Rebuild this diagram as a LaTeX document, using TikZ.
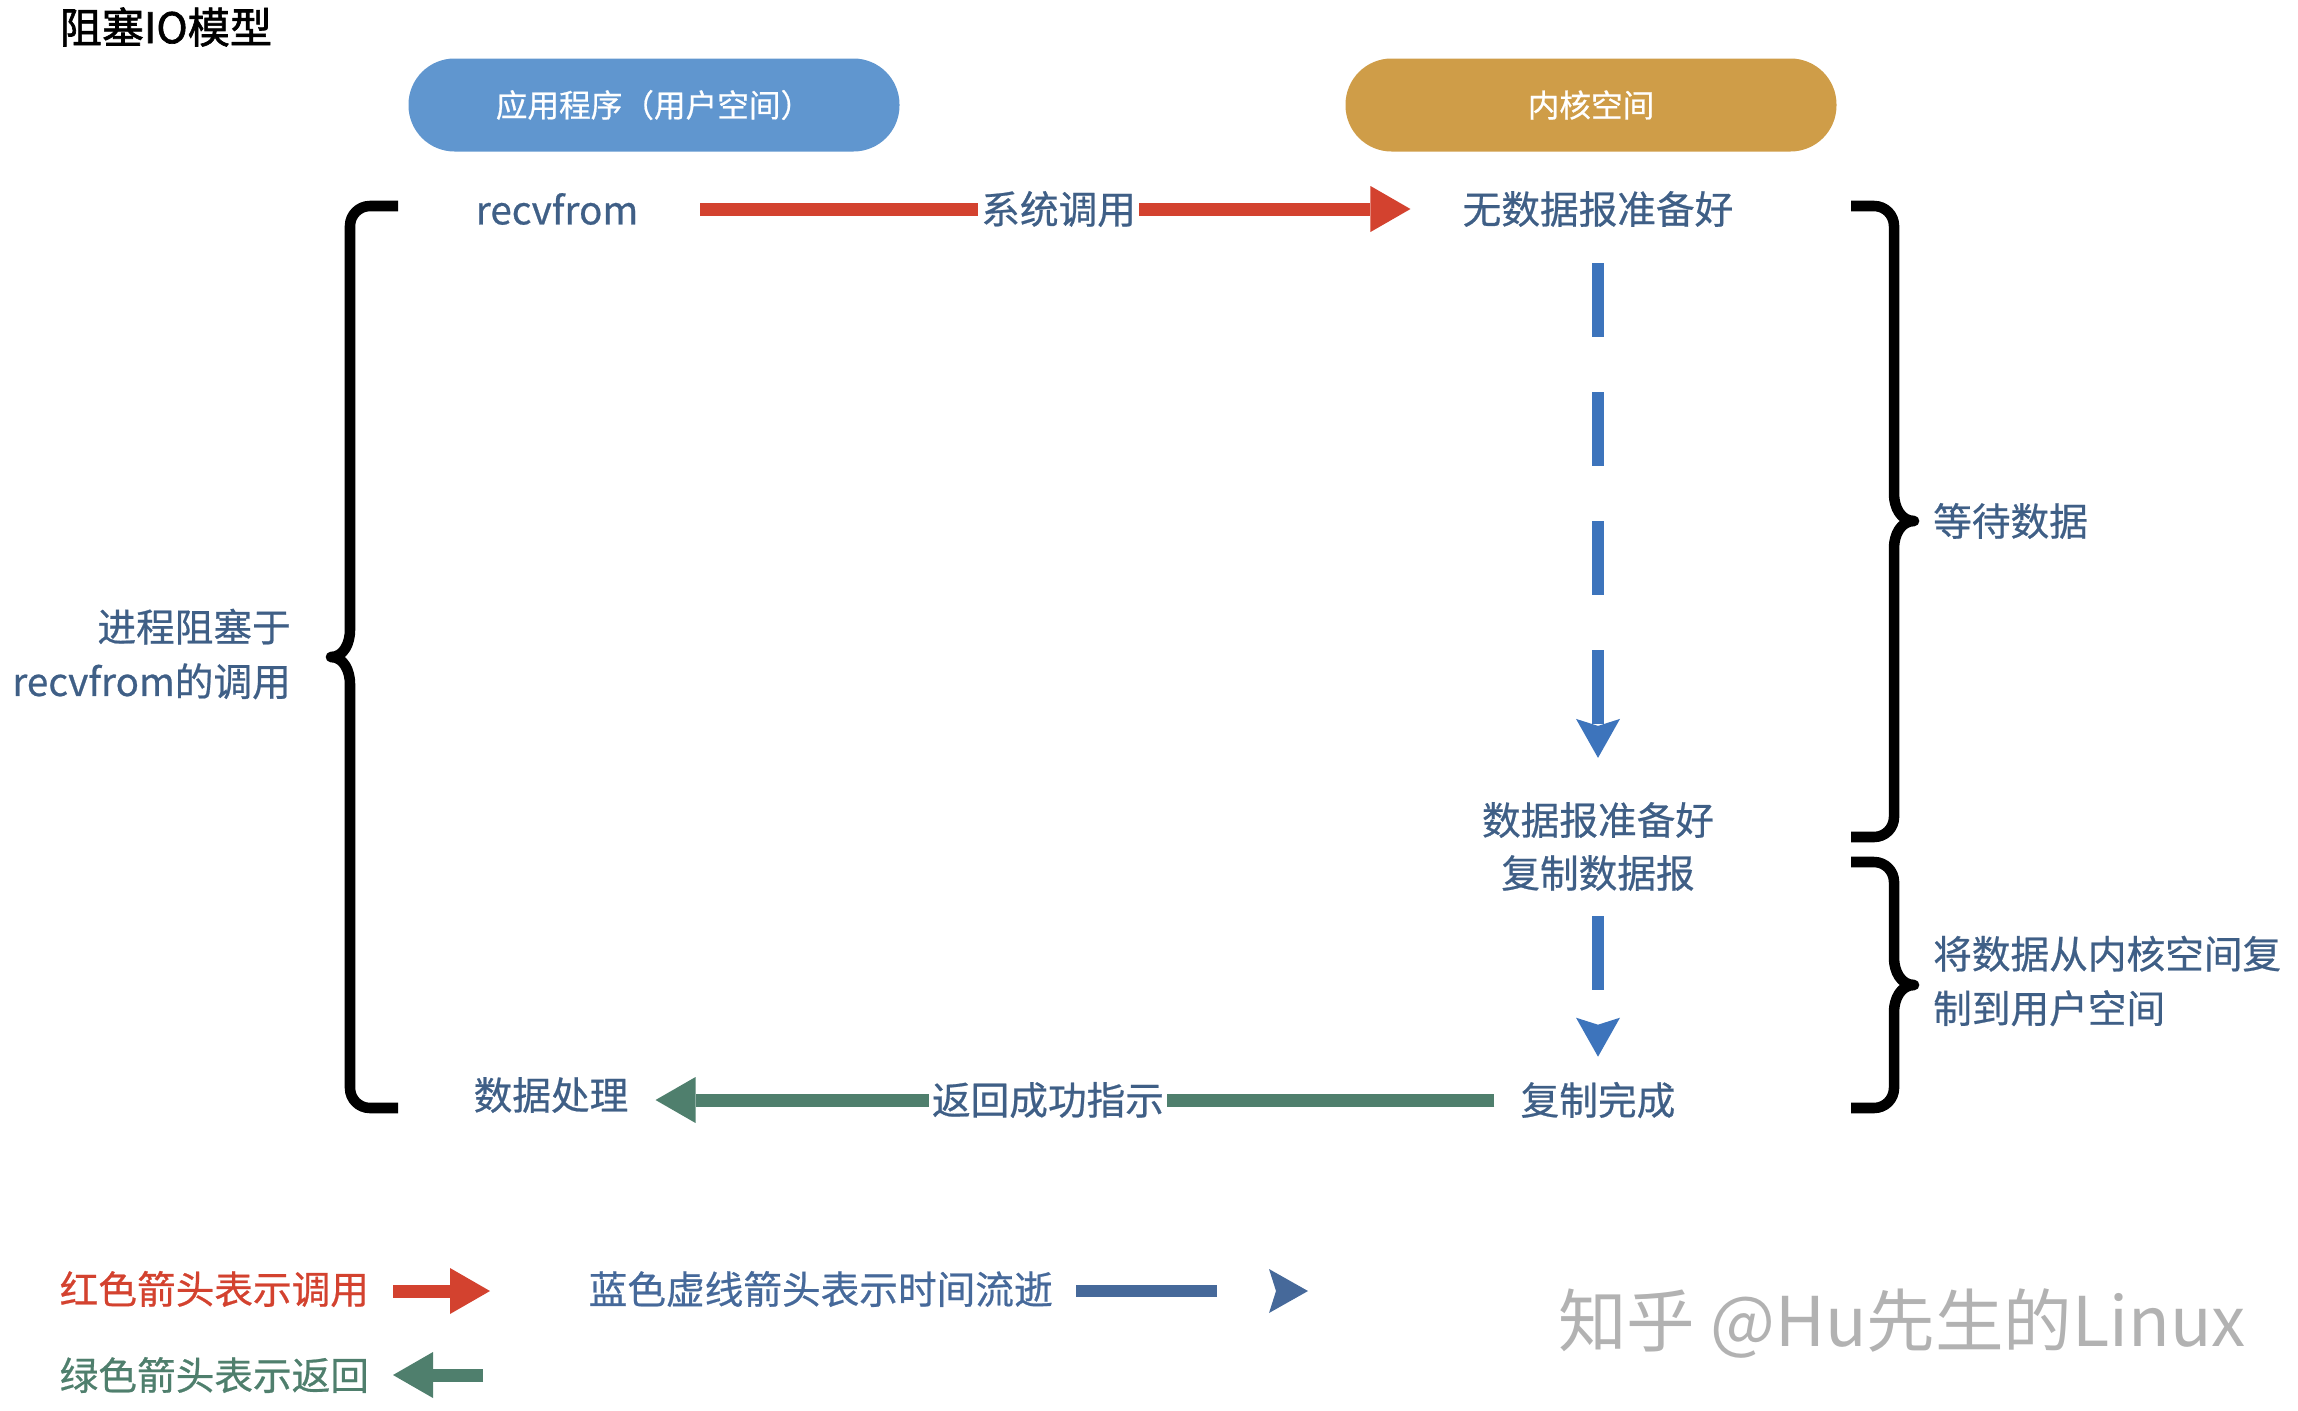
\documentclass[tikz,border=0pt]{standalone}
\usepackage{fontspec}
\setmainfont[FakeBold=0.6]{Noto Sans CJK SC}
\newfontfamily\titlefont[FakeBold=1.5]{Noto Sans CJK SC}
\newfontfamily\markfont{Noto Sans CJK SC}
\usetikzlibrary{arrows.meta}
\definecolor{userblue}{HTML}{6096CF}
\definecolor{kernelgold}{HTML}{CF9D48}
\definecolor{textblue}{HTML}{3F5F86}
\definecolor{callred}{HTML}{D3422F}
\definecolor{retgreen}{HTML}{4F7F6D}
\definecolor{flowblue}{HTML}{3D74BC}
\definecolor{legblue}{HTML}{46699A}

\begin{document}
\begin{tikzpicture}[pill/.style={rectangle,rounded corners=4.6mm,minimum width=4.91cm,
  minimum height=0.93cm,fill=#1,text=white,font=\fontsize{9}{10}\selectfont},
 lbl/.style={text=textblue,font=\fontsize{11}{15.5}\selectfont,inner sep=1pt},
 call/.style={line width=0.13cm,callred,-{Triangle[length=0.40cm,width=0.46cm,line width=0pt]}},
 ret/.style={line width=0.13cm,retgreen,-{Triangle[length=0.40cm,width=0.46cm,line width=0pt]}},
 flow/.style={line width=0.12cm,flowblue,dash pattern=on 0.74cm off 0.55cm,
  -{Stealth[length=0.39cm,width=0.44cm,inset=0.07cm,line width=0pt]}},
 curly/.style={line width=3pt,line join=round}]
\useasboundingbox (0,0) rectangle (22.98,14.10);
\node [anchor=west,inner sep=0pt,font=\titlefont\fontsize{12}{14}\selectfont] (title) at (0.59,13.83) {阻塞IO模型};
\node [pill=userblue] (user) at (6.54,13.05) {应用程序（用户空间）};
\node [pill=kernelgold] (kernel) at (15.91,13.05) {内核空间};
\node [lbl] (recv) at (5.57,12.01) {recvfrom};
\node [lbl] (nodata) at (15.98,12.01) {无数据报准备好};
\node [lbl] (ready) at (15.98,5.90) {数据报准备好};
\node [lbl] (copy) at (15.98,5.37) {复制数据报};
\node [lbl] (done) at (15.98,3.10) {复制完成};
\node [lbl] (proc) at (5.51,3.15) {数据处理};
\node [lbl,anchor=east,align=right] (block) at (2.95,7.56) {进程阻塞于\\recvfrom的调用};
\node [lbl,anchor=west] (wait) at (19.29,8.89) {等待数据};
\node [lbl,anchor=west,align=left] (copyto) at (19.29,4.29) {将数据从内核空间复\\制到用户空间};
% calls, time and return
\draw [call,shorten <=0.58cm,shorten >=0.48cm] (recv) -- (nodata) node [lbl,pos=0.51,fill=white] {系统调用};
\draw [flow,shorten <=0.32cm,shorten >=0.40cm] (nodata.south) -- (ready.north);
\draw [flow,shorten <=0.21cm,shorten >=0.21cm] (copy.south) -- (done.north);
\draw [ret,shorten <=0.22cm,shorten >=0.23cm] (done.west) -- (done.west -| proc.east) node [lbl,pos=0.53,fill=white] {返回成功指示};
% braces
\draw [curly] (3.98,12.04) -- (3.70,12.04) to[out=180,in=90] (3.50,11.84) -- (3.50,7.80)
 to[out=-90,in=0] (3.31,7.53) to[out=0,in=90] (3.50,7.26) -- (3.50,3.22) to[out=-90,in=180] (3.70,3.02) -- (3.98,3.02);
\draw [curly] (18.51,12.04) -- (18.74,12.04) to[out=0,in=90] (18.94,11.84) -- (18.94,9.16)
 to[out=-90,in=180] (19.14,8.89) to[out=180,in=90] (18.94,8.62) -- (18.94,5.93) to[out=-90,in=0] (18.74,5.73) -- (18.51,5.73);
\draw [curly] (18.51,5.48) -- (18.74,5.48) to[out=0,in=90] (18.94,5.28) -- (18.94,4.52)
 to[out=-90,in=180] (19.14,4.25) to[out=180,in=90] (18.94,3.98) -- (18.94,3.22) to[out=-90,in=0] (18.74,3.02) -- (18.51,3.02);
% legend
\node [anchor=west,inner sep=0pt,text=callred,font=\fontsize{11}{13}\selectfont] (legcall) at (0.59,1.21) {红色箭头表示调用};
\coordinate (c1) at (3.93,1.19);
\coordinate (c2) at (4.90,1.19);
\draw [call] (c1) -- (c2);
\node [anchor=west,inner sep=0pt,text=legblue,font=\fontsize{11}{13}\selectfont] (legflow) at (5.88,1.21) {蓝色虚线箭头表示时间流逝};
\coordinate (f1) at (10.76,1.19);
\coordinate (f2) at (13.08,1.19);
\draw [flow,legblue,dash pattern=on 1.41cm off 1cm] (f1) -- (f2);
\node [anchor=west,inner sep=0pt,text=retgreen,font=\fontsize{11}{13}\selectfont] (legret) at (0.59,0.35) {绿色箭头表示返回};
\coordinate (r1) at (4.83,0.35);
\coordinate (r2) at (3.93,0.35);
\draw [ret] (r1) -- (r2);
\node [text=black!30,font=\markfont\fontsize{19.5}{24}\selectfont] (mark) at (19.02,0.87) {知乎 @Hu先生的Linux};
\end{tikzpicture}
\end{document}
